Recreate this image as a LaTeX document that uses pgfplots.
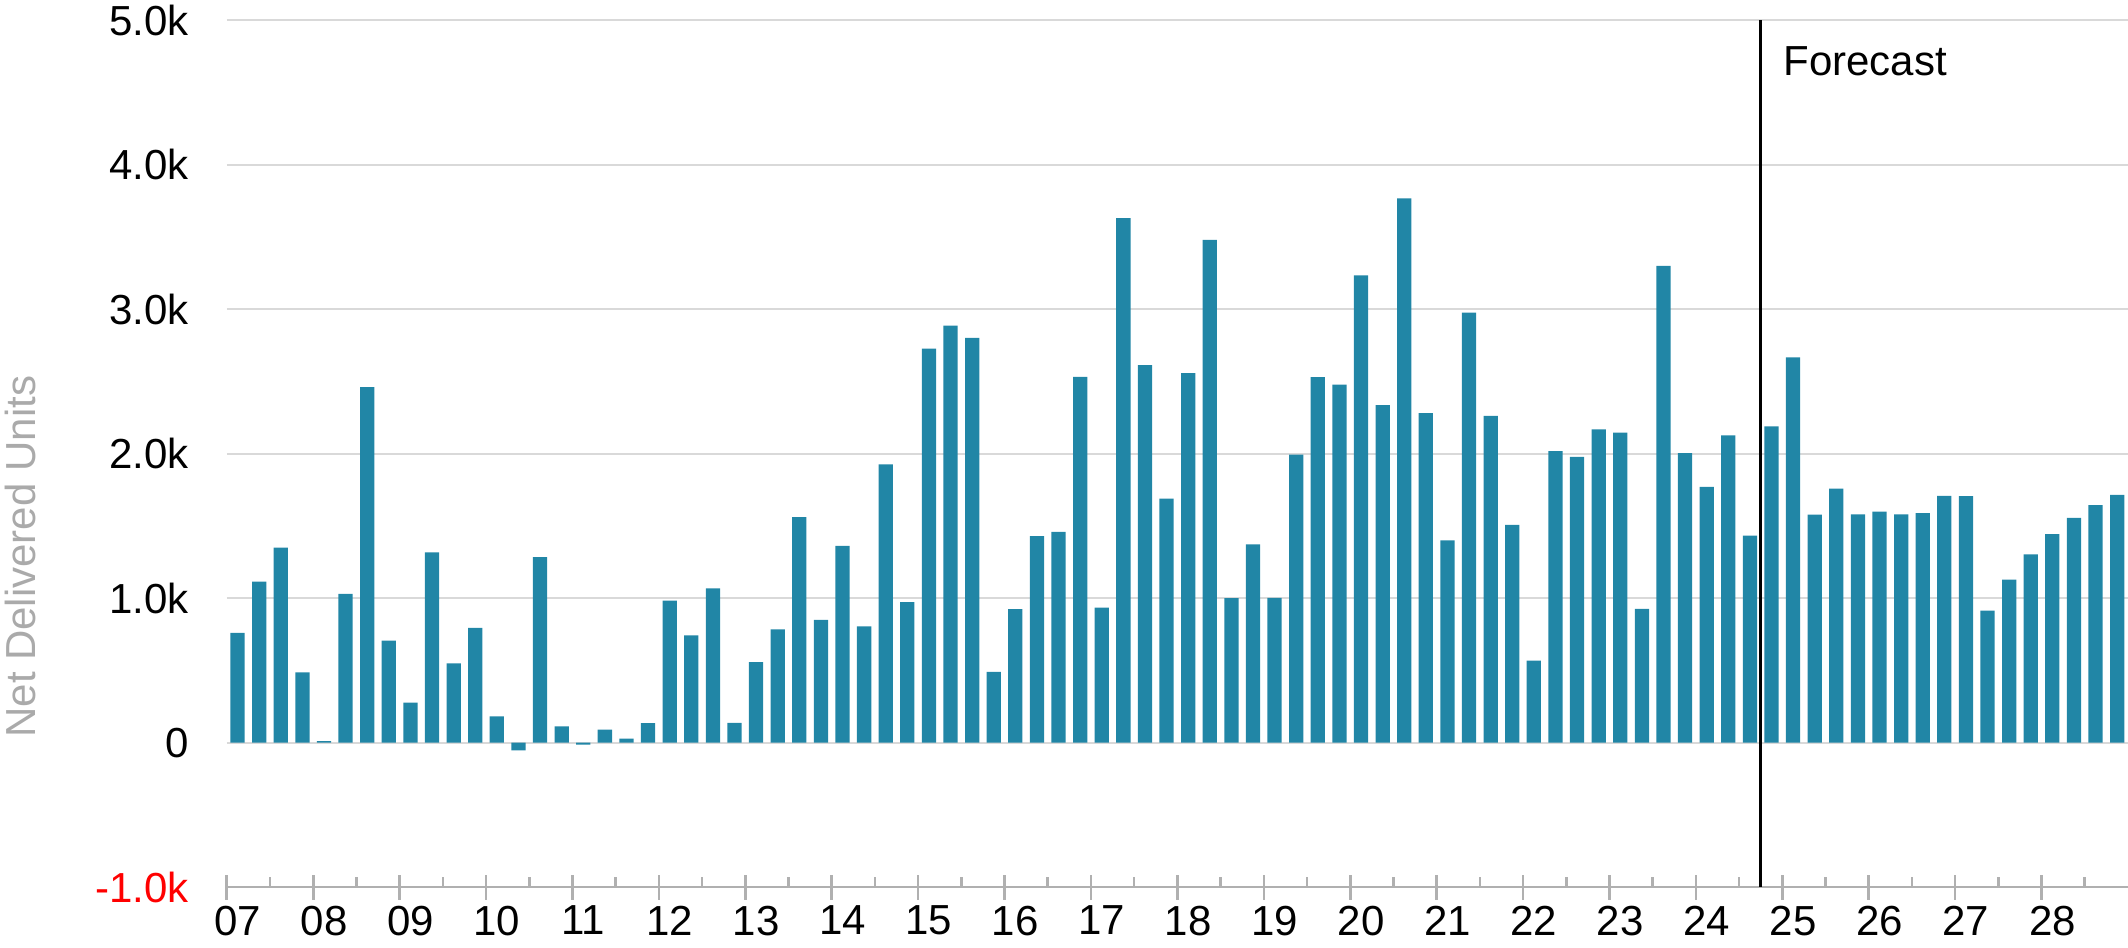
\documentclass[border=0pt]{standalone}
\usepackage{fontspec}
\setmainfont{Liberation Sans}
\usepackage{pgfplots}
\pgfplotsset{compat=1.18}
\usepackage{pgfplotstable}
\definecolor{barblue}{RGB}{33,134,166}
\definecolor{gridgray}{RGB}{217,217,217}
\definecolor{axisgray}{RGB}{176,176,176}
\definecolor{labelgray}{RGB}{170,170,170}

\pgfplotstableread{
x y
0 760
1 1114
2 1350
3 485
4 10
5 1029
6 2461
7 706
8 277
9 1317
10 548
11 794
12 181
13 -55
14 1284
15 112
16 -14
17 90
18 27
19 134
20 983
21 742
22 1068
23 137
24 556
25 783
26 1561
27 849
28 1361
29 805
30 1925
31 972
32 2727
33 2886
34 2801
35 490
36 923
37 1429
38 1459
39 2532
40 934
41 3630
42 2612
43 1689
44 2557
45 3480
46 999
47 1372
48 1002
49 1993
50 2530
51 2478
52 3233
53 2335
54 3767
55 2281
56 1399
57 2976
58 2261
59 1506
60 567
61 2018
62 1977
63 2168
64 2146
65 925
66 3299
67 2004
68 1769
69 2127
70 1432
71 2188
72 2667
73 1577
74 1758
75 1580
76 1599
77 1580
78 1588
79 1708
80 1706
81 914
82 1128
83 1303
84 1443
85 1555
86 1643
87 1714
}\datatable

\begin{document}
\begin{tikzpicture}
\path[use as bounding box] (-56.7pt,-15pt) rectangle (475.3pt,221.75pt);
\begin{axis}[
  scale only axis, width=475.3pt, height=216.7pt,
  at={(0,0)}, anchor=south west,
  xmin=-0.5, xmax=87.5, ymin=-1000, ymax=5000,
  axis line style={draw=none},
  ymajorgrids, grid style={gridgray, line width=0.5pt},
  ytick={-1000,0,1000,2000,3000,4000,5000},
  yticklabels={\textcolor{red}{-1.0k},0,1.0k,2.0k,3.0k,4.0k,5.0k},
  ytick style={draw=none},
  xtick={-0.5,3.5,...,83.5},
  xticklabels={07,08,09,10,11,12,13,14,15,16,17,18,19,20,21,22,23,24,25,26,27,28},
  xtick pos=bottom,
  xtick align=center, major tick length=6.25pt,
  xtick style={axisgray, line width=0.65pt},
  extra x ticks={1.5,5.5,...,85.5},
  extra x tick labels={},
  extra x tick style={xtick align=inside, major tick length=2.5pt, xtick style={axisgray, line width=0.65pt}},
  tick label style={font=\fontsize{10.5}{12.6}\selectfont},
  xticklabel style={xshift=2.7pt, yshift=1.9pt},
  yticklabel style={xshift=-6pt},
  clip=false,
]
\addplot[ybar, bar width=0.66, fill=barblue, draw=none] table[x=x, y=y] {\datatable};
\draw[axisgray, line width=0.65pt] (rel axis cs:0,0) -- (rel axis cs:1,0);
\draw[black, line width=0.75pt] (axis cs:70.5,-1000) -- (axis cs:70.5,5000);
\node[anchor=base west, inner sep=0pt, font=\fontsize{10.5}{12.6}\selectfont] at ([xshift=5.5pt, yshift=-13.7pt]axis cs:70.5,5000) {Forecast};
\node[rotate=90, anchor=center, inner sep=0pt, text=labelgray, font=\fontsize{10.5}{12.6}\selectfont] at ([xshift=-51.7pt]rel axis cs:0,0.381) {Net Delivered Units};
\end{axis}
\end{tikzpicture}
\end{document}
